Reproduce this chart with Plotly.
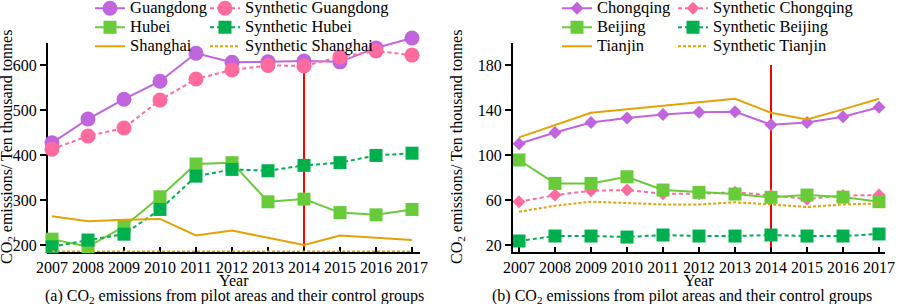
import plotly.graph_objects as go

years = [2007, 2008, 2009, 2010, 2011, 2012, 2013, 2014, 2015, 2016, 2017]
year_labels = [str(y) for y in years]

# (a) pilot areas and their control groups
guangdong = [427, 480, 524, 564, 626, 606, 607, 609, 607, 638, 660]
syn_guangdong = [413, 442, 460, 522, 569, 589, 599, 598, 618, 631, 622]
hubei = [213, 196, 241, 307, 380, 383, 296, 302, 272, 267, 279]
syn_hubei = [196, 211, 224, 279, 353, 368, 365, 377, 383, 399, 404]
shanghai = [264, 253, 256, 258, 221, 232, 216, 200, 221, 216, 211]
syn_shanghai = [185.5, 185.5, 185.5, 185.5, 185.5, 185.5, 185.5, 185.5, 185.5, 185.5, 185.5]

# (b) pilot areas and their control groups
chongqing = [110, 120, 129, 133, 136, 138, 138.5, 127, 129, 134, 142.5]
syn_chongqing = [58.5, 64.4, 68.3, 68.9, 65.5, 65.5, 67, 64, 61, 64, 64.4]
beijing = [95.6, 74.8, 74.8, 80.7, 68.9, 66.8, 65.3, 62.4, 64.4, 62.6, 58.5]
syn_beijing = [23.6, 28, 28, 27.1, 28.9, 28, 28, 28.9, 28, 28, 29.8]
tianjin = [115.7, 126.7, 137.6, 140.6, 143.6, 146.5, 150, 137.6, 131.7, 140.6, 150]
syn_tianjin = [49.6, 54.9, 58.5, 57.6, 56.1, 56.1, 58, 56.1, 53.8, 56.1, 57]

policy_year = 2014

PURPLE = "#c165df"
PINK = "#ff6b9e"
LGREEN = "#68cc3a"
DGREEN = "#00b04f"
ORANGE = "#e2a208"
FONT = "Times New Roman"


def nm(s):
    return f'<span style="font-size:16.5px">{s}</span>'


fig = go.Figure()


def add(x_ax, y_ax, y, name, color, dash, symbol, size, legend):
    mode = "lines+markers" if symbol else "lines"
    fig.add_trace(go.Scatter(
        x=years, y=y, name=nm(name), mode=mode,
        xaxis=x_ax, yaxis=y_ax, legend=legend, cliponaxis=False,
        line=dict(color=color, width=2, dash=dash),
        marker=dict(symbol=symbol or "circle", size=size, color=color,
                    line=dict(width=0)),
    ))


DOT = "4px,3px"
FDOT = "3px,2px"
# left panel
add("x", "y", guangdong, "Guangdong", PURPLE, "solid", "circle", 15, "legend")
add("x", "y", syn_guangdong, "Synthetic Guangdong", PINK, DOT, "circle", 15, "legend2")
add("x", "y", hubei, "Hubei", LGREEN, "solid", "square", 13, "legend")
add("x", "y", syn_hubei, "Synthetic Hubei", DGREEN, DOT, "square", 13, "legend2")
add("x", "y", shanghai, "Shanghai", ORANGE, "solid", None, 0, "legend")
add("x", "y", syn_shanghai, "Synthetic Shanghai", ORANGE, FDOT, None, 0, "legend2")
# right panel
add("x2", "y2", chongqing, "Chongqing", PURPLE, "solid", "diamond", 10, "legend3")
add("x2", "y2", syn_chongqing, "Synthetic Chongqing", PINK, DOT, "diamond", 10, "legend4")
add("x2", "y2", beijing, "Beijing", LGREEN, "solid", "square", 13, "legend3")
add("x2", "y2", syn_beijing, "Synthetic Beijing", DGREEN, DOT, "square", 13, "legend4")
add("x2", "y2", tianjin, "Tianjin", ORANGE, "solid", None, 0, "legend3")
add("x2", "y2", syn_tianjin, "Synthetic Tianjin", ORANGE, FDOT, None, 0, "legend4")

ML, MR, MT, MB = 47, 14, 31, 52
W, H = 899, 304
PW = W - ML - MR
PH = H - MT - MB


def px(x):
    return (x - ML) / PW


def py(y):
    return (H - MB - y) / PH


tickfont = dict(family=FONT, size=16, color="black")
xcommon = dict(tickmode="array", tickvals=years, ticktext=year_labels,
               ticks="inside", ticklen=5, tickwidth=1.5, tickcolor="black",
               showline=True, linecolor="black", linewidth=2, tickangle=0,
               showgrid=False, zeroline=False, tickfont=tickfont,
               layer="below traces")
ycommon = dict(ticks="outside", ticklen=6, tickwidth=1.5, tickcolor="black",
               showgrid=False, zeroline=False, tickfont=tickfont,
               linecolor="black", linewidth=2)

fig.update_layout(
    width=W, height=H,
    margin=dict(l=ML, r=MR, t=MT, b=MB, autoexpand=False),
    paper_bgcolor="white", plot_bgcolor="white",
    font=dict(family=FONT, size=16, color="black"),
    xaxis=dict(domain=[0, px(420)], range=[2007 - 5 / 36, 2017 + 8 / 36],
               anchor="y", **xcommon),
    yaxis=dict(domain=[0, 1], range=[184.4, 675.6], anchor="x",
               tickmode="array", tickvals=[200, 300, 400, 500, 600],
               showline=False, **ycommon),
    xaxis2=dict(domain=[px(513), 1], range=[2007 - 6 / 36, 2017 + 6 / 36],
                anchor="y2", **xcommon),
    yaxis2=dict(domain=[0, py(43)], range=[13.8, 199.6], anchor="x2",
                tickmode="array", tickvals=[20, 60, 100, 140, 180],
                showline=True, **ycommon),
    showlegend=True,
)

legend_common = dict(orientation="v", bgcolor="rgba(0,0,0,0)",
                     font=dict(family=FONT, size=12, color="black"),
                     yanchor="top", xanchor="left", traceorder="normal",
                     borderwidth=0, itemclick=False, itemdoubleclick=False)
ly = py(-6.2)
fig.update_layout(
    legend=dict(x=px(90), y=ly, **legend_common),
    legend2=dict(x=px(205), y=ly, **legend_common),
    legend3=dict(x=px(557), y=ly, **legend_common),
    legend4=dict(x=px(673), y=ly, **legend_common),
)

# y-axis line of the left panel (stops at the top of the axis)
fig.add_shape(type="line", xref="x domain", yref="y", x0=0, x1=0,
              y0=184.4, y1=649, line=dict(color="black", width=2), layer="below")
# policy year markers
fig.add_shape(type="line", xref="x", yref="y", x0=policy_year, x1=policy_year,
              y0=184.4, y1=600, line=dict(color="#ff0000", width=2), layer="below")
fig.add_shape(type="line", xref="x2", yref="y2", x0=policy_year, x1=policy_year,
              y0=13.8, y1=180, line=dict(color="#ff0000", width=2), layer="below")

ytitle = "CO<sub>2</sub> emissions/ Ten thousand tonnes"
annots = [
    dict(text=ytitle, x=px(7), y=py(147), textangle=-90),
    dict(text=ytitle, x=px(457), y=py(147), textangle=-90),
    dict(text="Year", x=px(234), y=py(280)),
    dict(text="Year", x=px(699), y=py(280)),
    dict(text="(a) CO<sub>2</sub> emissions from pilot areas and their control groups",
         x=px(234), y=py(296)),
    dict(text="(b) CO<sub>2</sub> emissions from pilot areas and their control groups",
         x=px(682), y=py(296)),
]
for a in annots:
    fig.add_annotation(xref="paper", yref="paper", showarrow=False,
                       xanchor="center", yanchor="middle",
                       font=dict(family=FONT, size=16, color="black"), **a)

fig.write_html("out.html", config={"displayModeBar": False},
               post_script="document.body.style.margin='0';document.body.style.padding='0';")
